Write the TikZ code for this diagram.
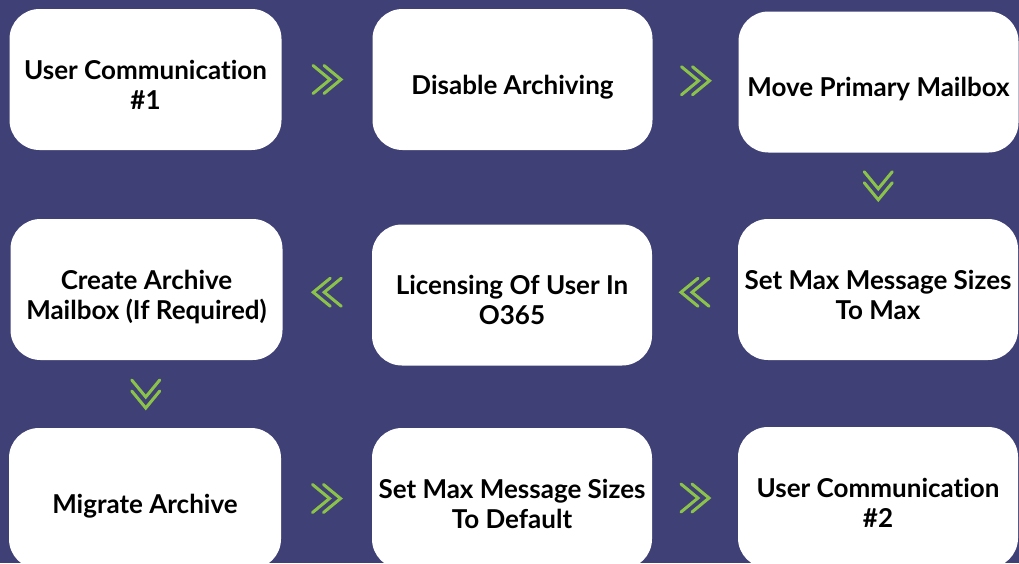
\documentclass[tikz,border=0pt]{standalone}
\usepackage{fontspec}
\setmainfont{Lato}[Ligatures={NoCommon,NoRare}]
\usepackage{xcolor}
\usepackage{tikz}
\usetikzlibrary{positioning}
\usetikzlibrary{calc}
\definecolor{bgblue}{RGB}{63,64,117}
\definecolor{chevgreen}{RGB}{139,195,74}
\tikzstyle{stagebox}=[rectangle,rounded corners=30pt,fill=white,minimum width=280pt,minimum height=141pt,inner sep=0pt,align=center,text depth=0pt,font=\bfseries\fontsize{26}{30}\selectfont]
\tikzstyle{oneline}=[text height=29pt]
\tikzstyle{twoline}=[text height=59pt]
\tikzstyle{narrowbox}=[stagebox,minimum width=272pt]
\tikzstyle{chevline}=[draw=chevgreen,line width=3pt,line cap=round,line join=miter]
\tikzset{chevrons/.pic={\draw[chevline] (-14,-14)--(3,0)--(-14,14) (-3,-14)--(14,0)--(-3,14);}}

\begin{document}
\begin{tikzpicture}[x=1pt,y=-1pt]
    % background
    \fill[bgblue] (0,0) rectangle (1019,563);
    \useasboundingbox (0,0) rectangle (1019,563);
    % First column of boxes
    \foreach \pos/\name/\lines/\label in {{(145.5,79.5)/ucA/twoline/User Communication\\\#1},
    {(146.5,289.5)/crarch/twoline/Create Archive\\Mailbox (If Required)},
    {(145,498.5)/migarch/oneline/Migrate Archive}}
        \node[narrowbox,\lines] (\name) at \pos {\label};
    % Other boxes
    \foreach \pos/\name/\lines/\label in {{(512.5,79.5)/disarch/oneline/Disable Archiving},
    {(878.5,82)/moveprim/oneline/Move Primary Mailbox},
    {(512,295)/licuser/twoline/Licensing Of User In\\O365},
    {(878,289.5)/maxsize/twoline/Set Max Message Sizes\\To Max},
    {(512,498.5)/defsize/twoline/Set Max Message Sizes\\To Default},
    {(878,497.5)/ucB/twoline/User Communication\\\#2}}
        \node[stagebox,\lines] (\name) at \pos {\label};

    % Chevrons between the steps
    \foreach \source/\dest/\angle in {ucA/disarch/0, disarch/moveprim/0, moveprim/maxsize/-90,
    maxsize/licuser/180, licuser/crarch/180, crarch/migarch/-90, migarch/defsize/0, defsize/ucB/0}
        \path (\source) -- pic[rotate=\angle]{chevrons} (\dest);
\end{tikzpicture}
\end{document}
